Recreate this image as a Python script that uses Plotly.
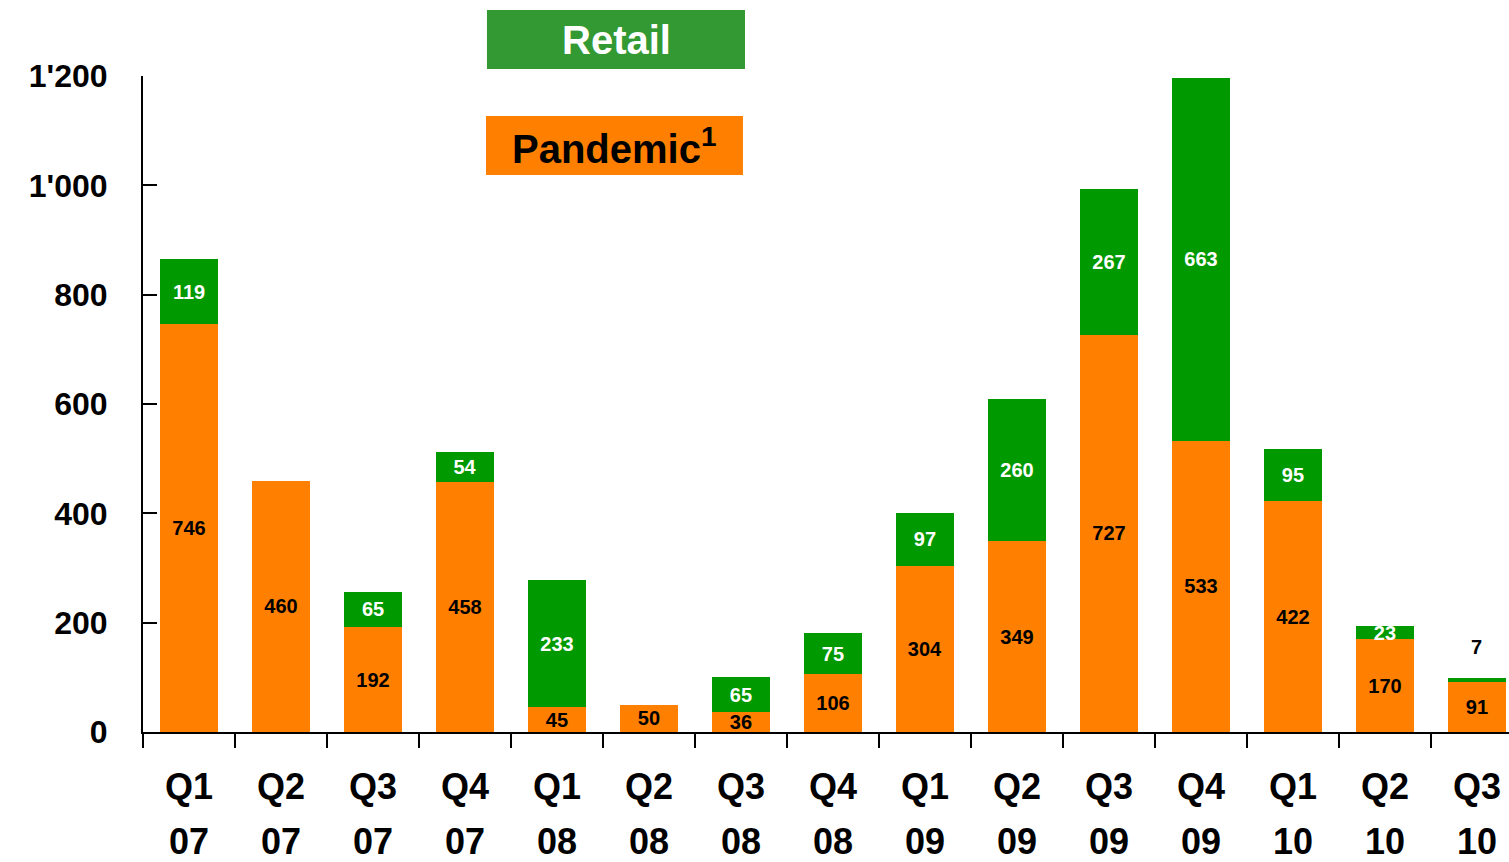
import plotly.graph_objects as go

# Quarterly volumes, stacked: pandemic at the base, retail on top
quarters = ["Q1", "Q2", "Q3", "Q4", "Q1", "Q2", "Q3", "Q4",
            "Q1", "Q2", "Q3", "Q4", "Q1", "Q2", "Q3"]
years = ["07", "07", "07", "07", "08", "08", "08", "08",
         "09", "09", "09", "09", "10", "10", "10"]
pandemic = [746, 460, 192, 458, 45, 50, 36, 106, 304, 349, 727, 533, 422, 170, 91]
retail = [119, None, 65, 54, 233, None, 65, 75, 97, 260, 267, 663, 95, 23, 7]

y_ticks = [0, 200, 400, 600, 800, 1000, 1200]
y_tick_labels = ["0", "200", "400", "600", "800", "1'000", "1'200"]

ORANGE = "#FF7F00"
GREEN = "#009900"
FONT = "Liberation Sans, Arial, sans-serif"

# one category per quarter
cats = [f"{q} {y}" for q, y in zip(quarters, years)]

# thin retail segments cannot hold their label; it is written above the bar instead
thin = [v is not None and v < 15 for v in retail]
retail_pos = ["none" if (t or v is None) else "inside" for t, v in zip(thin, retail)]

fig = go.Figure()
fig.add_trace(go.Bar(
    x=cats, y=pandemic, name="Pandemic", marker=dict(color=ORANGE, line=dict(width=0)),
    width=0.64, text=pandemic, texttemplate="%{text}", textposition="inside",
    insidetextanchor="middle", constraintext="none", cliponaxis=False,
    textfont=dict(family=FONT, size=20, color="black", weight="bold"),
    hoverinfo="skip",
))
fig.add_trace(go.Bar(
    x=cats, y=retail, name="Retail", marker=dict(color=GREEN, line=dict(width=0)),
    width=0.64, text=retail, texttemplate="%{text}", textposition=retail_pos,
    insidetextanchor="middle", constraintext="none", cliponaxis=False,
    insidetextfont=dict(family=FONT, size=20, color="white", weight="bold"),
    hoverinfo="skip",
))

annotations = []

# labels of thin retail segments, above the stack
for c, p, r, t in zip(cats, pandemic, retail, thin):
    if t:
        annotations.append(dict(
            x=c, y=p + r, xref="x", yref="y", text=str(r), showarrow=False,
            xanchor="center", yanchor="bottom", yshift=18,
            font=dict(family=FONT, size=20, color="black", weight="bold"),
        ))

# year row under the quarter tick labels
for c, yr in zip(cats, years):
    annotations.append(dict(
        x=c, y=-0.1662, xref="x", yref="paper", text=yr, showarrow=False,
        xanchor="center", yanchor="middle",
        font=dict(family=FONT, size=36, color="black", weight="bold"),
    ))

# legend boxes
annotations.append(dict(
    x=0.3463, y=1.0556, xref="paper", yref="paper", text="Retail", showarrow=False,
    xanchor="center", yanchor="middle",
    font=dict(family=FONT, size=40, color="white", weight="bold"),
))
annotations.append(dict(
    x=0.3453, y=0.894, xref="paper", yref="paper", text="Pandemic<sup>1</sup>",
    showarrow=False, xanchor="center", yanchor="middle",
    font=dict(family=FONT, size=40, color="black", weight="bold"),
))

shapes = [
    dict(type="rect", xref="paper", yref="paper", x0=0.2518, x1=0.4407,
         y0=1.0107, y1=1.1006, fillcolor="#339933", line=dict(width=0), layer="below"),
    dict(type="rect", xref="paper", yref="paper", x0=0.2511, x1=0.4392,
         y0=0.8491, y1=0.9390, fillcolor="#FF8000", line=dict(width=0), layer="below"),
]

fig.update_layout(
    width=1509, height=862,
    margin=dict(l=143, r=0, t=76, b=130),
    paper_bgcolor="white", plot_bgcolor="white",
    barmode="stack", showlegend=False,
    annotations=annotations, shapes=shapes,
    xaxis=dict(
        type="category", categoryorder="array", categoryarray=cats,
        range=[-0.5, 14.348], tickmode="array", tickvals=cats, ticktext=quarters,
        tickson="boundaries", ticks="outside", ticklen=14, tickwidth=2, tickcolor="black",
        showline=True, linecolor="black", linewidth=2, showgrid=False, zeroline=False,
        tickfont=dict(family=FONT, size=36, color="black", weight="bold"),
        ticklabelstandoff=22,
    ),
    yaxis=dict(
        range=[0, 1200], tickmode="array", tickvals=y_ticks, ticktext=y_tick_labels,
        ticks="inside", ticklen=14, tickwidth=2, tickcolor="black",
        showline=True, linecolor="black", linewidth=2, showgrid=False, zeroline=False,
        tickfont=dict(family=FONT, size=32, color="black", weight="bold"),
        ticklabelstandoff=27,
    ),
)

fig.write_html("out.html")
